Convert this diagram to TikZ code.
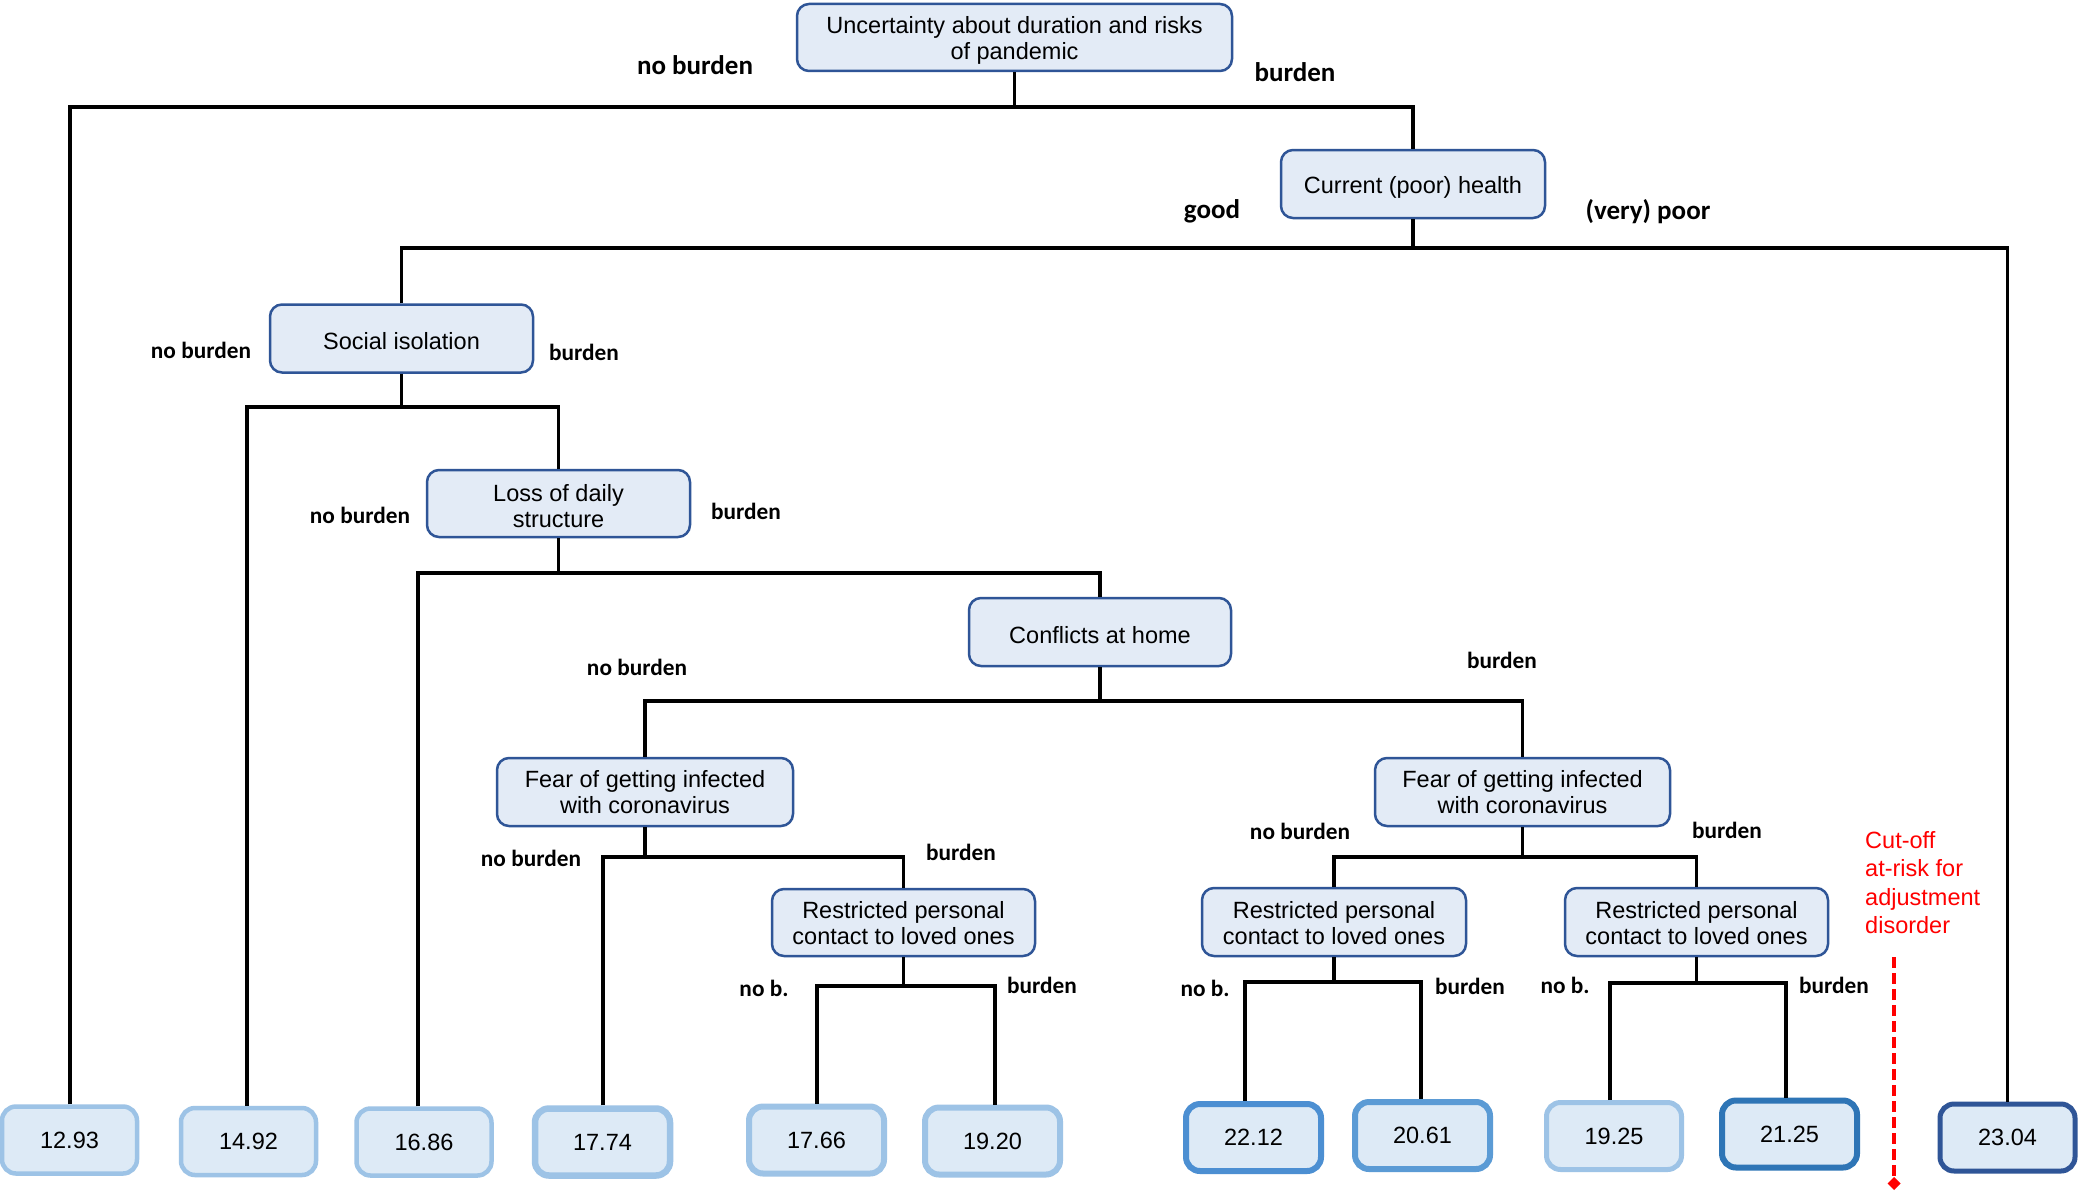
\documentclass[tikz,border=0pt]{standalone}
\usepackage{fontspec}
\setmainfont{Liberation Sans}
\newfontfamily\labfont{Carlito}
\usetikzlibrary{arrows.meta}
\definecolor{nfill}{HTML}{E3EBF6}
\definecolor{nborder}{HTML}{2F5597}
\definecolor{lfill}{HTML}{DDEAF6}
\definecolor{lb1}{HTML}{9DC3E6}
\definecolor{lb2}{HTML}{5B9BD5}
\definecolor{lb3}{HTML}{4C8FD2}
\definecolor{lb4}{HTML}{2E75B6}
\definecolor{lb5}{HTML}{2F5597}
\definecolor{cutred}{HTML}{FF0000}
\newcommand\txtpad{\rule{0pt}{23pt}}
\newcommand\txtpadb{\rule{0pt}{19pt}}
\tikzset{
  innerbox/.style={draw=nborder, fill=nfill, line width=2.5, rounded corners=12, align=center, inner sep=0,
    font=\fontsize{23.5}{26}\selectfont},
  leafbox/.style={fill=lfill, rounded corners=14, minimum width=135, minimum height=67, inner sep=0,
    font=\fontsize{23.5}{26}\selectfont},
  conn/.style={line width=3.6, black},
  lab/.style={font=\labfont\bfseries\fontsize{23.3}{26}\selectfont, inner sep=0},
  toplab/.style={font=\labfont\bfseries\fontsize{27}{30}\selectfont, inner sep=0},
}
\begin{document}
\begin{tikzpicture}[x=1pt,y=-1pt]
\path[use as bounding box, fill=white] (0,0) rectangle (2079,1196);

% internal nodes
\node[innerbox, minimum width=435, minimum height=67] (root) at (1014.5,37.5) {\txtpad Uncertainty about duration and risks\\of pandemic};
\node[innerbox, minimum width=264, minimum height=68] (health) at (1413,184) {\txtpad Current (poor) health};
\node[innerbox, minimum width=263, minimum height=68] (social) at (401.5,338.5) {\txtpad Social isolation};
\node[innerbox, minimum width=263, minimum height=67] (loss) at (558.5,503.5) {\txtpad Loss of daily\\structure};
\node[innerbox, minimum width=262, minimum height=68] (conf) at (1100,632) {\txtpad Conflicts at home};
\node[innerbox, minimum width=296, minimum height=68] (fearL) at (645,792) {Fear of getting infected\\with coronavirus};
\node[innerbox, minimum width=295, minimum height=68] (fearR) at (1522.5,792) {Fear of getting infected\\with coronavirus};
\node[innerbox, minimum width=263, minimum height=67] (R1) at (903.5,922.5) {\txtpadb Restricted personal\\contact to loved ones};
\node[innerbox, minimum width=264, minimum height=68] (R2) at (1334,922) {\txtpadb Restricted personal\\contact to loved ones};
\node[innerbox, minimum width=263, minimum height=68] (R3) at (1696.5,922) {\txtpadb Restricted personal\\contact to loved ones};

% leaves
\node[leafbox, draw=lb1, line width=4.5] (L1) at (69.5,1140) {12.93};
\node[leafbox, draw=lb1, line width=4.5] (L2) at (248.5,1141.5) {14.92};
\node[leafbox, draw=lb1, line width=4.5] (L3) at (424,1142) {16.86};
\node[leafbox, draw=lb1, line width=6.5] (L4) at (602.5,1142) {17.74};
\node[leafbox, draw=lb1, line width=6] (L5) at (816.5,1140) {17.66};
\node[leafbox, draw=lb1, line width=6] (L6) at (992.5,1141) {19.20};
\node[leafbox, draw=lb3, line width=6] (L7) at (1253.5,1137.5) {22.12};
\node[leafbox, draw=lb2, line width=6] (L8) at (1422.5,1135.5) {20.61};
\node[leafbox, draw=lb1, line width=5] (L9) at (1614,1136) {19.25};
\node[leafbox, draw=lb4, line width=6] (L10) at (1789.5,1134) {21.25};
\node[leafbox, draw=lb5, line width=5] (L11) at (2007.5,1137.5) {23.04};

% split coordinates
\coordinate (s1) at (70,107);
\coordinate (s2) at (401,248);
\coordinate (s3) at (247,407);
\coordinate (s4) at (418,573);
\coordinate (s5) at (643,701);
\coordinate (s6) at (603,857);
\coordinate (s7a) at (817,986);
\coordinate (s7b) at (995,986);
\coordinate (s8) at (1333,857);
\coordinate (s9a) at (1245,982);
\coordinate (s9b) at (1421,982);
\coordinate (s10a) at (1610,983);
\coordinate (s10b) at (1786,983);

% connectors
\draw[conn] (root.south) -- (root.south |- s1);
\draw[conn] (s1 |- L1.north) -- (s1) -| (health.north);

\draw[conn] (health.south) -- (health.south |- s2);
\draw[conn] (social.north) |- (L11.north |- s2) -- (L11.north);

\draw[conn] (social.south) -- (social.south |- s3);
\draw[conn] (s3 |- L2.north) -- (s3) -| (loss.north);

\draw[conn] (loss.south) -- (loss.south |- s4);
\draw[conn] (s4 |- L3.north) -- (s4) -| (conf.north);

\draw[conn] (conf.south) -- (conf.south |- s5);
\draw[conn] (fearL.north) |- (fearR.north |- s5) -- (fearR.north);

\draw[conn] (fearL.south) -- (fearL.south |- s6);
\draw[conn] (s6 |- L4.north) -- (s6) -| (R1.north);

\draw[conn] (R1.south) -- (R1.south |- s7a);
\draw[conn] (s7a |- L5.north) -- (s7a) -- (s7b) -- (s7b |- L6.north);

\draw[conn] (fearR.south) -- (fearR.south |- s8);
\draw[conn] (R2.north) |- (R3.north |- s8) -- (R3.north);

\draw[conn] (R2.south) -- (R2.south |- s9a);
\draw[conn] (s9a |- L7.north) -- (s9a) -- (s9b) -- (s9b |- L8.north);

\draw[conn] (R3.south) -- (R3.south |- s10a);
\draw[conn] (s10a |- L9.north) -- (s10a) -- (s10b) -- (s10b |- L10.north);

% labels
\node[toplab] (t1) at (695,65) {no burden};
\node[toplab] (t2) at (1295,72) {burden};
\node[toplab] (t3) at (1212,211) {good};
\node[toplab] (t4) at (1648,212) {(very) poor};
\node[lab] (a1) at (201,350) {no burden};
\node[lab] (a2) at (584,352) {burden};
\node[lab] (b1) at (360,515) {no burden};
\node[lab] (b2) at (746,511) {burden};
\node[lab] (c1) at (637,667) {no burden};
\node[lab] (c2) at (1502,660) {burden};
\node[lab] (d1) at (531,858) {no burden};
\node[lab] (d2) at (961,852) {burden};
\node[lab] (e1) at (764,988) {no b.};
\node[lab] (e2) at (1042,985) {burden};
\node[lab] (f1) at (1300,831) {no burden};
\node[lab] (f2) at (1727,830) {burden};
\node[lab] (g1) at (1205,988) {no b.};
\node[lab] (g2) at (1470,986) {burden};
\node[lab] (h1) at (1565,985) {no b.};
\node[lab] (h2) at (1834,985) {burden};

% cut-off
\node[anchor=north west, inner sep=0, align=left, text=cutred, font=\fontsize{23.5}{28.5}\selectfont] (cut) at (1865,831) {Cut-off\\at-risk for\\adjustment\\disorder};
\coordinate (cuta) at (1894,957);
\coordinate (cutb) at (1894,1190);
\draw[cutred, line width=4, dash pattern=on 11 off 5, -{Diamond[length=13,width=13]}] (cuta) -- (cutb);
\end{tikzpicture}
\end{document}
